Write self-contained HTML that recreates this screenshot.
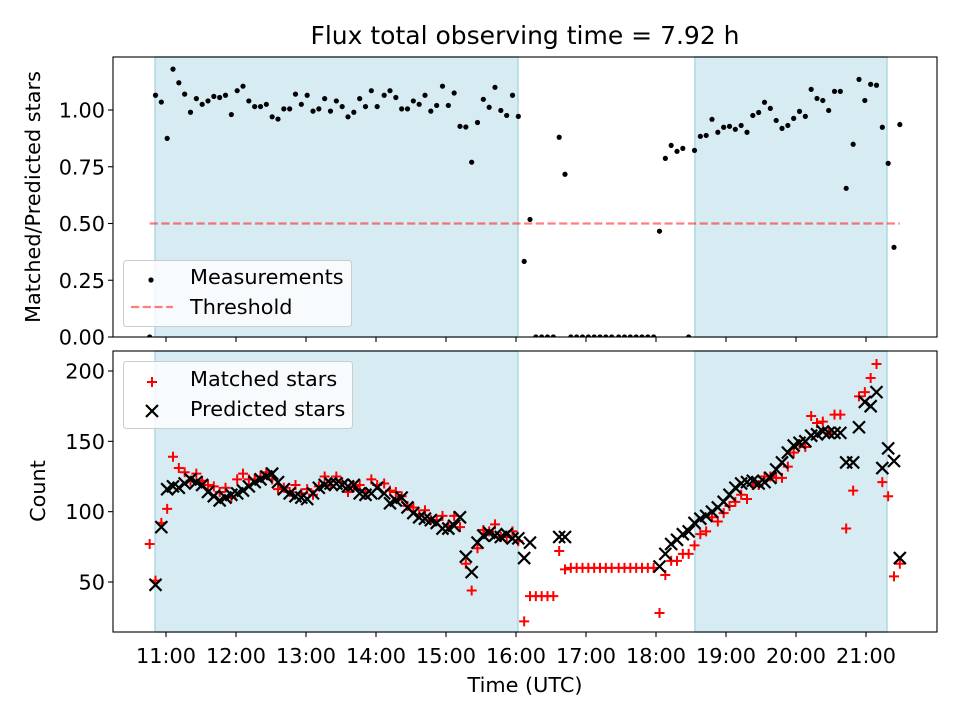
<!DOCTYPE html>
<html><head><meta charset="utf-8"><style>
html,body{margin:0;padding:0;background:#fff;}
svg{display:block;font-family:"DejaVu Sans","Liberation Sans",sans-serif;}
</style></head><body>
<svg id="fig" width="960" height="720" viewBox="0 0 960 720" xmlns="http://www.w3.org/2000/svg">
<rect width="960" height="720" fill="#fff"/>
<text x="525" y="44" font-size="25" text-anchor="middle" fill="#000">Flux total observing time = 7.92 h</text>
<g id="topAx"></g><g id="botAx"></g>
<text transform="translate(40,197) rotate(-90)" font-size="20.8" text-anchor="middle" fill="#000">Matched/Predicted stars</text>
<text transform="translate(45,491) rotate(-90)" font-size="20.8" text-anchor="middle" fill="#000">Count</text>
<text x="525" y="692" font-size="20.8" text-anchor="middle" fill="#000">Time (UTC)</text>
</svg>
<script>
// times in minutes after 10:00 UTC
const times=[46,51,56,61,66,71,76,81,86,91,96,101,106,111,116,121,126,131,136,141,146,151,156,161,166,171,176,181,186,191,196,201,206,211,216,221,226,231,236,241,
247,252,257,262,267,272,277,282,287,292,297,302,307,312,317,322,327,332,337,342,347,352,357,362,367,372,377,382,387,392,397,402,407,412,417,422,427,432,437,442,
448,453,458,463,468,473,478,483,488,493,498,503,508,513,518,523,528,533,538,543,548,553,558,563,568,573,578,583,588,593,598,603,608,613,618,623,628,633,638,643,
649,654,659,664,669,674,679,684,689];
const ratio=[0,1.065,1.035,0.875,1.18,1.12,1.07,0.99,1.05,1.025,1.04,1.06,1.055,1.065,0.98,1.085,1.105,1.04,1.015,1.015,1.025,0.97,0.96,1.005,1.005,1.07,1.025,1.065,0.995,1.005,1.05,0.995,1.04,1.015,0.97,0.99,1.05,1.015,1.085,1.015,1.065,1.085,1.055,1.005,1.005,1.04,1.025,1.065,0.995,1.02,1.105,1.02,1.075,0.928,0.925,0.77,0.945,1.047,1.012,1.1,0.998,0.976,1.065,0.972,
0.333,0.518,0,0,0,0,0.88,0.717,0,0,0,0,0,0,0,0,0,0,0,0,0,0,0,0.466,0.787,0.844,0.818,0.831,0,0.822,0.884,0.888,0.959,0.902,0.924,0.928,0.915,0.932,0.902,0.976,0.989,1.034,1.007,0.954,0.919,0.932,0.963,0.994,0.972,1.091,1.051,1.042,0.998,1.082,1.082,0.655,0.849,1.135,1.042,1.113,1.109,0.924,0.765,0.395,0.936];
const matched=[77,51,92,102,139,131,128,122,127,122,119,118,114,117,110,123,127,123,123,125,128,123,116,117,114,119,113,116,112,118,125,119,125,121,114,118,119,114,123,119,120,115,114,111,104,103,98,101,94,94,97,90,97,89,63,44,74,87,86,91,82,82,86,79,
22,40,40,40,40,40,72,59,60,60,60,60,60,60,60,60,60,60,60,60,60,60,60,28,55,65,65,70,70,76,84,86,96,93,99,104,107,112,109,119,119,125,125,124,124,132,142,148,146,168,163,164,156,169,169,88,115,182,185,195,205,121,111,54,63];
const predicted=[null,48,89,116,118,117,120,123,121,119,114,111,108,110,112,113,115,118,121,123,125,127,121,116,113,111,110,109,113,117,119,120,120,119,118,119,113,112,113,117,113,106,108,110,103,99,96,95,94,92,88,88,90,96,68,57,78,83,85,83,82,84,81,81,
67,78,null,null,null,null,82,82,null,null,null,null,null,null,null,null,null,null,null,null,null,null,null,61,70,77,80,84,86,92,95,97,100,103,107,112,117,120,121,122,120,121,124,130,135,142,147,149,150,154,155,157,156,156,156,135,135,160,178,175,185,131,145,136,67];
const spans=[[50.6,361.7],[513.4,678]];
const xTickLabels=["11:00","12:00","13:00","14:00","15:00","16:00","17:00","18:00","19:00","20:00","21:00"];
const xTickMinutes=[60,120,180,240,300,360,420,480,540,600,660];
const topTicks=[0,0.25,0.5,0.75,1.0];
const botTicks=[50,100,150,200];
const threshold=0.5;

const NS="http://www.w3.org/2000/svg";
const L=113,R=937;
const xs=m=>166+(m-60)*70/60;
const yt=v=>337-v*227;
const yb=v=>371+(200-v)*211/150;
function mk(tag,attrs,parent){const e=document.createElementNS(NS,tag);for(const k in attrs)e.setAttribute(k,attrs[k]);parent.appendChild(e);return e;}
const topG=document.getElementById('topAx'),botG=document.getElementById('botAx');

function axes(g,T,B,name){
  const cp=mk('clipPath',{id:'clip-'+name},g);
  mk('rect',{x:L,y:T,width:R-L,height:B-T},cp);
  spans.forEach((s,i)=>{
    const r=mk('rect',{x:xs(s[0]),y:T,width:xs(s[1])-xs(s[0]),height:B-T,fill:'#add8e6','fill-opacity':0.5,stroke:'#add8e6','stroke-width':1.5},g);
    
    
  });
}
function frame(g,T,B,name){
  const f=mk('rect',{x:L,y:T,width:R-L,height:B-T,fill:'none',stroke:'#000','stroke-width':1.1},g);
  
  
  xTickMinutes.forEach((m,i)=>{
    const t=mk('line',{x1:xs(m),x2:xs(m),y1:B,y2:B+5,stroke:'#000','stroke-width':1.1},g);
    
    
    if(name==='bottom'){
      const tx=mk('text',{x:xs(m),y:B+31,'font-size':20.8,'text-anchor':'middle'},g);
      tx.textContent=xTickLabels[i];
      
      
    }
  });
}

// TOP
axes(topG,57,337,'top');
const tg=mk('g',{'clip-path':'url(#clip-top)'},topG);
const th=mk('line',{x1:xs(times[0]),x2:xs(times[times.length-1]),y1:yt(threshold),y2:yt(threshold),stroke:'#ff0000','stroke-opacity':0.5,'stroke-width':2.2,'stroke-dasharray':'8.2,3.5'},tg);


ratio.forEach((v,i)=>{
  const c=mk('circle',{cx:xs(times[i]),cy:yt(v),r:2.6,fill:'#000'},tg);
  
  
});
frame(topG,57,337,'top');
topTicks.forEach(v=>{
  mk('line',{x1:L-5,x2:L,y1:yt(v),y2:yt(v),stroke:'#000','stroke-width':1.1},topG);
  const t=mk('text',{x:L-8,y:yt(v)+7.5,'font-size':20.8,'text-anchor':'end'},topG);
  t.textContent=v.toFixed(2);
  
  
});
const lg1=mk('g',{},topG);


mk('rect',{x:123.5,y:260.5,width:228,height:66,rx:3,fill:'#fff','fill-opacity':0.8,stroke:'#cccccc','stroke-width':1},lg1);
mk('circle',{cx:151,cy:280,r:2.6,fill:'#000'},lg1);
mk('text',{x:190,y:284,'font-size':20.8},lg1).textContent='Measurements';
mk('line',{x1:131,x2:173,y1:307,y2:307,stroke:'#ff0000','stroke-opacity':0.5,'stroke-width':2.2,'stroke-dasharray':'8.2,3.5'},lg1);
mk('text',{x:190,y:314,'font-size':20.8},lg1).textContent='Threshold';

// BOTTOM
axes(botG,351,632,'bottom');
const bg=mk('g',{'clip-path':'url(#clip-bottom)'},botG);
function plus(g,x,y){return mk('path',{d:`M${x-5},${y}H${x+5}M${x},${y-5}V${y+5}`,stroke:'#ff0000','stroke-width':2,fill:'none'},g);}
function cross(g,x,y){return mk('path',{d:`M${x-6},${y-6}L${x+6},${y+6}M${x-6},${y+6}L${x+6},${y-6}`,stroke:'#000','stroke-width':2.2,fill:'none'},g);}
matched.forEach((v,i)=>{
  if(v===null)return;
  const p=plus(bg,xs(times[i]),yb(v));
  
  
});
predicted.forEach((v,i)=>{
  if(v===null)return;
  const p=cross(bg,xs(times[i]),yb(v));
  
  
});
frame(botG,351,632,'bottom');
botTicks.forEach(v=>{
  mk('line',{x1:L-5,x2:L,y1:yb(v),y2:yb(v),stroke:'#000','stroke-width':1.1},botG);
  const t=mk('text',{x:L-8,y:yb(v)+7.5,'font-size':20.8,'text-anchor':'end'},botG);
  t.textContent=String(v);
  
  
});
const lg2=mk('g',{},botG);


mk('rect',{x:123.5,y:361.5,width:229,height:67,rx:3,fill:'#fff','fill-opacity':0.8,stroke:'#cccccc','stroke-width':1},lg2);
plus(lg2,152,382);
mk('text',{x:190,y:386,'font-size':20.8},lg2).textContent='Matched stars';
cross(lg2,152,411);
mk('text',{x:190,y:416,'font-size':20.8},lg2).textContent='Predicted stars';
</script>
</body></html>
